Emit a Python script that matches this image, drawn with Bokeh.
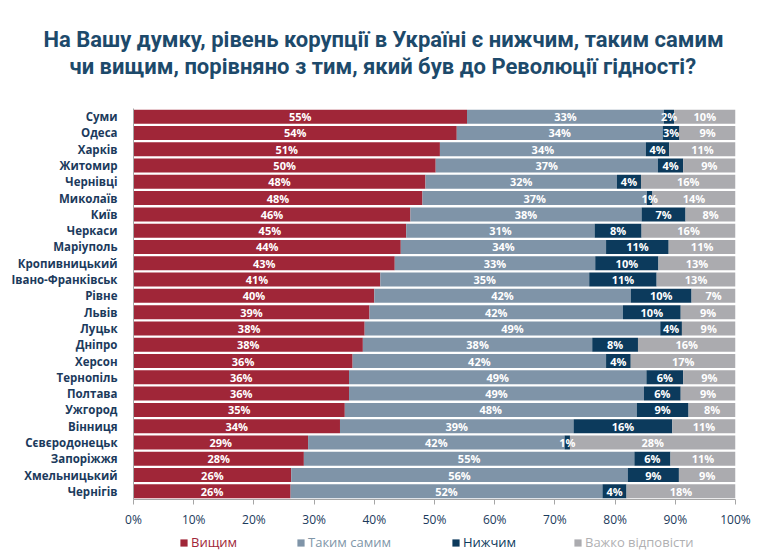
from bokeh.plotting import figure
from bokeh.layouts import column
from bokeh.models import (FactorRange, Range1d, ColumnDataSource, Legend, LegendItem,
                          Title, FixedTicker, PrintfTickFormatter)
from bokeh.embed import file_html
from bokeh.resources import INLINE
from bokeh.core.properties import value

cities = ["Суми", "Одеса", "Харків", "Житомир", "Чернівці", "Миколаїв", "Київ", "Черкаси",
          "Маріуполь", "Кропивницький", "Івано-Франківськ", "Рівне", "Львів", "Луцьк",
          "Дніпро", "Херсон", "Тернопіль", "Полтава", "Ужгород", "Вінниця",
          "Сєвєродонецьк", "Запоріжжя", "Хмельницький", "Чернігів"]

# bar lengths (%)
higher = [55.4, 53.7, 50.9, 50.2, 48.5, 48.0, 46.0, 45.3, 44.4, 43.4, 41.0, 40.0, 39.2, 38.4,
          38.1, 36.4, 35.8, 35.8, 35.1, 34.3, 29.0, 28.3, 26.2, 26.1]
same = [32.7, 34.2, 34.2, 36.9, 31.8, 37.3, 38.4, 31.3, 34.1, 33.3, 34.7, 42.6, 42.1, 49.1,
        38.1, 42.1, 49.4, 49.0, 48.5, 38.8, 42.6, 54.9, 55.9, 51.8]
lower = [1.7, 2.8, 3.9, 4.2, 4.0, 0.9, 7.3, 7.8, 10.4, 10.5, 11.2, 10.1, 9.6, 3.6,
         7.6, 4.1, 6.1, 6.1, 8.6, 16.4, 0.9, 6.0, 8.5, 4.0]
hard = [10.2, 9.3, 11.0, 8.7, 15.7, 13.8, 8.3, 15.6, 11.1, 12.8, 13.1, 7.3, 9.1, 8.9,
        16.2, 17.4, 8.7, 9.1, 7.8, 10.5, 27.5, 10.8, 9.4, 18.1]

# printed labels (%)
higher_lbl = [55, 54, 51, 50, 48, 48, 46, 45, 44, 43, 41, 40, 39, 38, 38, 36, 36, 36, 35, 34, 29, 28, 26, 26]
same_lbl = [33, 34, 34, 37, 32, 37, 38, 31, 34, 33, 35, 42, 42, 49, 38, 42, 49, 49, 48, 39, 42, 55, 56, 52]
lower_lbl = [2, 3, 4, 4, 4, 1, 7, 8, 11, 10, 11, 10, 10, 4, 8, 4, 6, 6, 9, 16, 1, 6, 9, 4]
hard_lbl = [10, 9, 11, 9, 16, 14, 8, 16, 11, 13, 13, 7, 9, 9, 16, 17, 9, 9, 8, 11, 28, 11, 9, 18]

series_names = ["Вищим", "Таким самим", "Нижчим", "Важко відповісти"]
colors = ["#A02638", "#7F94A8", "#0C3A5C", "#ABABAF"]
legend_text_colors = ["#A02638", "#8096A8", "#0C3A5C", "#B0B0B2"]
x_ticks = [0, 10, 20, 30, 40, 50, 60, 70, 80, 90, 100]

title_1 = "На Вашу думку, рівень корупції в Україні є нижчим, таким самим"
title_2 = "чи вищим, порівняно з тим, який був до Революції гідності?"

keys = ["higher", "same", "lower", "hard"]
source = ColumnDataSource(dict(city=cities, higher=higher, same=same, lower=lower, hard=hard))

p = figure(width=764, height=530, output_backend="svg", toolbar_location=None,
           y_range=FactorRange(factors=cities[::-1]), x_range=Range1d(0, 100),
           min_border_left=133, min_border_right=29, min_border_bottom=28, min_border_top=108)

renderers = p.hbar_stack(keys, y="city", height=0.86, color=colors, line_color=None, source=source)

# segment labels
lx, ly, lt = [], [], []
series_vals = [higher, same, lower, hard]
series_lbls = [higher_lbl, same_lbl, lower_lbl, hard_lbl]
for i, c in enumerate(cities):
    start = 0.0
    for vals, lbls in zip(series_vals, series_lbls):
        w = vals[i]
        lx.append(start + w / 2)
        ly.append(c)
        lt.append(f"{lbls[i]}%")
        start += w
lab_src = ColumnDataSource(dict(x=lx, y=ly, t=lt))
p.text(x="x", y="y", text="t", source=lab_src, text_color="white", text_align="center",
       text_baseline="middle", text_font=value("Open Sans"), text_font_style="bold",
       text_font_size="11px")

# axes
p.xgrid.visible = False
p.ygrid.visible = False
p.outline_line_color = None

p.xaxis.ticker = FixedTicker(ticks=x_ticks)
p.xaxis.formatter = PrintfTickFormatter(format="%d%%")
p.xaxis.axis_line_color = "#A6A6A6"
p.xaxis.major_tick_line_color = "#A6A6A6"
p.xaxis.major_tick_in = 0
p.xaxis.major_tick_out = 5
p.xaxis.minor_tick_line_color = None
p.xaxis.major_label_text_color = "#1B3A5C"
p.xaxis.major_label_text_font = "Open Sans"
p.xaxis.major_label_text_font_size = "12px"
p.xaxis.major_label_standoff = 6

p.yaxis.axis_line_color = "#A6A6A6"
p.yaxis.major_tick_line_color = None
p.yaxis.minor_tick_line_color = None
p.yaxis.major_label_text_color = "#1B3A5C"
p.yaxis.major_label_text_font = "Open Sans"
p.yaxis.major_label_text_font_style = "bold"
p.yaxis.major_label_text_font_size = "11.5px"
p.yaxis.major_label_standoff = 10

# title: spacer closest to the plot, then line 2, then line 1 (left aligned, shifted to centre on page)
p.add_layout(Title(text=" ", text_font_size="1px", standoff=27), "above")
p.add_layout(Title(text=title_2, align="left", text_font_size="22px", text_color="#1D4A6B",
                   text_font="Roboto", text_font_style="bold", standoff=0, offset=-64), "above")
p.add_layout(Title(text=title_1, align="left", text_font_size="22px", text_color="#1D4A6B",
                   text_font="Roboto", text_font_style="bold", standoff=0, offset=-90), "above")

# legend in a strip below the chart (its frame aligns with the chart frame)
lg = figure(width=764, height=24, output_backend="svg", toolbar_location=None,
            x_range=Range1d(0, 1), y_range=Range1d(0, 1), min_border=0,
            x_axis_location=None, y_axis_location=None)
lg.grid.visible = False
lg.outline_line_color = None
legend_x = [46, 163, 318, 440]
for name, col, tc, lxp in zip(series_names, colors, legend_text_colors, legend_x):
    r = lg.hbar(y=[0], right=[0], height=0, color=col, line_color=None)
    leg = Legend(items=[LegendItem(label=name, renderers=[r])], location=(lxp, 3),
                 orientation="horizontal", label_text_color=tc, border_line_color=None,
                 background_fill_alpha=0, padding=0, margin=0, glyph_width=9, glyph_height=9,
                 label_standoff=3, label_text_font_size="13px", label_text_font="Open Sans",
                 label_height=12)
    lg.add_layout(leg, "center")

layout = column(p, lg, spacing=0)
open("out.html", "w").write(file_html(layout, INLINE))
